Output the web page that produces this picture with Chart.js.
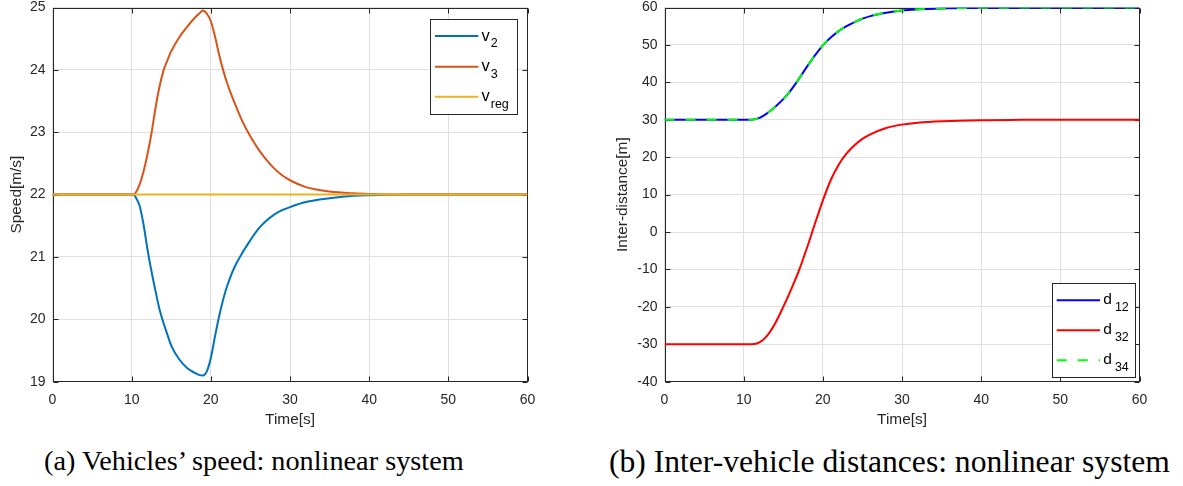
<!DOCTYPE html>
<html><head><meta charset="utf-8">
<script src="https://cdn.jsdelivr.net/npm/chart.js@4.4.1/dist/chart.umd.min.js"></script>
<style>
html,body{margin:0;padding:0;background:#fff;width:1183px;height:486px;overflow:hidden;position:relative}
canvas{position:absolute;top:0}
#c1{left:0}
#c2{left:580px}
.cap{position:absolute;white-space:nowrap;font-family:"Liberation Serif","Times New Roman",serif;color:#000;line-height:1}
</style></head><body>
<canvas id="c1" width="560" height="440"></canvas>
<canvas id="c2" width="603" height="440"></canvas>
<div class="cap" id="capA">(a) Vehicles’ speed: nonlinear system</div>
<div class="cap" id="capB">(b) Inter-vehicle distances: nonlinear system</div>
<script>
// ---------- data ----------
const timeA = [0, 10, 10.2, 10.5, 11, 11.5, 12, 12.5, 13, 13.5, 14, 14.5, 15, 16, 17, 18, 18.5, 19, 19.5, 20, 20.5, 21, 21.5, 22, 22.5, 23, 24, 25, 26, 27, 28, 29, 30, 32, 35, 38, 40, 45, 50, 60];
const v2 = [22, 22, 22, 21.96, 21.82, 21.52, 21.12, 20.77, 20.46, 20.17, 19.95, 19.76, 19.58, 19.36, 19.22, 19.14, 19.11, 19.1, 19.17, 19.38, 19.71, 20.02, 20.29, 20.51, 20.69, 20.84, 21.07, 21.27, 21.45, 21.58, 21.68, 21.75, 21.8, 21.88, 21.94, 21.98, 21.99, 22.0, 22, 22];
const v3 = [22, 22, 22, 22.03, 22.16, 22.37, 22.65, 22.98, 23.38, 23.72, 23.98, 24.15, 24.3, 24.52, 24.69, 24.84, 24.9, 24.95, 24.9, 24.78, 24.55, 24.27, 24.02, 23.81, 23.63, 23.47, 23.17, 22.93, 22.73, 22.56, 22.42, 22.31, 22.23, 22.12, 22.05, 22.02, 22.01, 22.0, 22, 22];
const timeReg = [0, 60];
const vReg = [22, 22];
const seriesNamesA = ['v_2', 'v_3', 'v_reg'];

const timeB = [0, 10, 11, 12, 13, 14, 15, 16, 17, 18, 19, 20, 21, 22, 23, 24, 25, 26, 28, 30, 32, 35, 40, 45, 50, 60];
const d12 = [30, 30, 30.02, 30.5, 31.8, 33.5, 35.5, 38.0, 41.0, 44.2, 47.2, 49.9, 52.0, 53.7, 55.0, 56.1, 57.0, 57.7, 58.6, 59.2, 59.5, 59.75, 59.92, 59.97, 60, 60];
const d32 = [-30, -30, -30, -29.5, -27.6, -24.3, -20.0, -15.3, -10.2, -4.2, 2.2, 8.4, 13.9, 18.0, 21.0, 23.2, 24.9, 26.1, 27.8, 28.7, 29.2, 29.6, 29.9, 29.97, 30, 30];
const d34 = [30, 30, 30.02, 30.5, 31.8, 33.5, 35.5, 38.0, 41.0, 44.2, 47.2, 49.9, 52.0, 53.7, 55.0, 56.1, 57.0, 57.7, 58.6, 59.2, 59.5, 59.75, 59.92, 59.97, 60, 60];
const seriesNamesB = ['d_12', 'd_32', 'd_34'];

const xTitle = 'Time[s]';
const yTitleA = 'Speed[m/s]';
const yTitleB = 'Inter-distance[m]';

// ---------- helpers ----------
const pts = (xs, ys) => xs.map((x, i) => ({x, y: ys[i]}));
const SANS = '"Liberation Sans", Arial, Helvetica, sans-serif';
const AX = '#262626';

const matlabAxes = {
  id: 'matlabAxes',
  beforeDatasetsDraw(chart) {
    const {ctx, chartArea: a, scales: {x, y}} = chart;
    ctx.save();
    ctx.strokeStyle = AX; ctx.lineWidth = 1;
    const L = Math.round(a.left) + 0.5, R = Math.round(a.right) - 0.5;
    const T = Math.round(a.top) + 0.5, B = Math.round(a.bottom) - 0.5;
    ctx.strokeRect(L, T, R - L, B - T);
    ctx.beginPath();
    x.ticks.forEach(t => {
      const px = Math.round(x.getPixelForValue(t.value)) + 0.5;
      ctx.moveTo(px, B); ctx.lineTo(px, B - 5);
      ctx.moveTo(px, T); ctx.lineTo(px, T + 5);
    });
    y.ticks.forEach(t => {
      const py = Math.round(y.getPixelForValue(t.value)) + 0.5;
      ctx.moveTo(L, py); ctx.lineTo(L + 5, py);
      ctx.moveTo(R, py); ctx.lineTo(R - 5, py);
    });
    ctx.stroke();
    ctx.restore();
  }
};

const subLegend = {
  id: 'subLegend',
  afterDraw(chart, args, o) {
    const {ctx} = chart;
    ctx.save();
    ctx.fillStyle = '#fff';
    ctx.fillRect(o.x, o.y, o.w, o.h);
    ctx.strokeStyle = AX; ctx.lineWidth = 1;
    ctx.strokeRect(Math.round(o.x) + 0.5, Math.round(o.y) + 0.5, Math.round(o.w), Math.round(o.h));
    chart.data.datasets.forEach((ds, i) => {
      const ry = o.rows[i];
      ctx.strokeStyle = ds.borderColor;
      ctx.lineWidth = ds.borderWidth;
      ctx.setLineDash(ds.borderDash || []);
      ctx.beginPath(); ctx.moveTo(o.lx0, ry); ctx.lineTo(o.lx1, ry); ctx.stroke();
      ctx.setLineDash([]);
      const [main, sub] = ds.label.split('_');
      ctx.fillStyle = '#000';
      ctx.textBaseline = 'alphabetic'; ctx.textAlign = 'left';
      ctx.font = o.size + 'px ' + SANS;
      ctx.fillText(main, o.tx, ry + o.dy);
      const w = ctx.measureText(main).width;
      ctx.font = o.subSize + 'px ' + SANS;
      ctx.fillText(sub, o.tx + w + o.gap, ry + o.subDy);
    });
    ctx.restore();
  }
};

function makeChart(id, datasets, yMin, yMax, yStep, yTitle, yWidth, padRight, yTitlePad, legendOpts) {
  return new Chart(document.getElementById(id), {
    type: 'line',
    data: {datasets},
    options: {
      responsive: false, animation: false, events: [],
      layout: {padding: {left: 0, top: 7.5, right: padRight, bottom: 0}},
      elements: {point: {radius: 0}, line: {cubicInterpolationMode: 'monotone', fill: false}},
      plugins: {legend: {display: false}, tooltip: {enabled: false}, subLegend: legendOpts},
      scales: {
        x: {
          type: 'linear', position: 'bottom', min: 0, max: 60,
          ticks: {stepSize: 10, color: AX, padding: 11, font: {family: SANS, size: 14, lineHeight: 1}},
          grid: {color: '#e0e0e0', lineWidth: 1, drawTicks: false},
          border: {display: false},
          title: {display: true, text: xTitle, color: AX, padding: {top: 0, bottom: 10.8}, font: {family: SANS, size: 15.4, lineHeight: 1.2}},
          afterFit(s) { s.height = 58.3; s.paddingLeft = 0; s.paddingRight = 0; }
        },
        y: {
          type: 'linear', min: yMin, max: yMax,
          ticks: {stepSize: yStep, color: AX, padding: 7, font: {family: SANS, size: 14, lineHeight: 1}},
          grid: {color: '#e0e0e0', lineWidth: 1, drawTicks: false},
          border: {display: false},
          title: {display: true, text: yTitle, color: AX, padding: {top: yTitlePad, bottom: 0}, font: {family: SANS, size: 15.4, lineHeight: 1.2}},
          afterFit(s) { s.width = yWidth; s.paddingTop = 0; s.paddingBottom = 0; }
        }
      }
    },
    plugins: [matlabAxes, subLegend]
  });
}

makeChart('c1', [
  {label: seriesNamesA[0], data: pts(timeA, v2), borderColor: '#0072BD', borderWidth: 2, order: 3},
  {label: seriesNamesA[1], data: pts(timeA, v3), borderColor: '#D95319', borderWidth: 2, order: 2},
  {label: seriesNamesA[2], data: pts(timeReg, vReg), borderColor: '#EDB120', borderWidth: 2, order: 1}
], 19, 25, 1, yTitleA, 52.5, 32.5, 7.5,
  {x: 430, y: 19, w: 86.5, h: 95, rows: [36, 66.7, 96.7], lx0: 435, lx1: 478.3, tx: 481.5, size: 16.5, subSize: 12.5, dy: 4.6, subDy: 11.2, gap: 1});

makeChart('c2', [
  {label: seriesNamesB[0], data: pts(timeB, d12), borderColor: '#0000FF', borderWidth: 2, order: 3},
  {label: seriesNamesB[1], data: pts(timeB, d32), borderColor: '#FF0000', borderWidth: 2, order: 2},
  {label: seriesNamesB[2], data: pts(timeB, d34), borderColor: '#00FF00', borderWidth: 2, borderDash: [10, 11], order: 1}
], -40, 60, 10, yTitleB, 84.5, 43.5, 33.8,
  {x: 472.3, y: 283, w: 83.4, h: 94.3, rows: [300.3, 330.3, 360.3], lx0: 476.7, lx1: 520, tx: 523.3, size: 15.5, subSize: 12.5, dy: 3.6, subDy: 11, gap: 3});

// captions: fit to measured extents in the reference
function placeCaption(id, left, right, cy) {
  const el = document.getElementById(id);
  el.style.fontSize = '22px';
  const w = el.getBoundingClientRect().width;
  const fs = 22 * (right - left) / w;
  el.style.fontSize = fs + 'px';
  el.style.left = left + 'px';
  el.style.top = (cy - fs * 0.55) + 'px';
}
placeCaption('capA', 44, 464, 463);
placeCaption('capB', 609, 1170, 463);
</script>
</body></html>
